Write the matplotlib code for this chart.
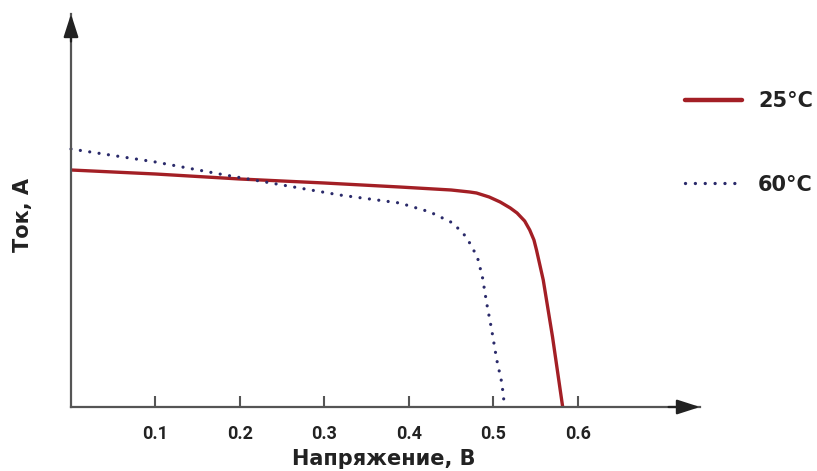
import matplotlib
matplotlib.use("Agg")
import matplotlib.pyplot as plt
from matplotlib.lines import Line2D

# --- data ---
v25 = [0.000, 0.100, 0.200, 0.300, 0.389, 0.450, 0.472, 0.480, 0.495, 0.508,
       0.520, 0.528, 0.537, 0.543, 0.548, 0.551, 0.559, 0.570, 0.582]
i25 = [2.37, 2.33, 2.28, 2.24, 2.20, 2.17, 2.15, 2.14, 2.10, 2.05,
       1.99, 1.94, 1.86, 1.77, 1.67, 1.57, 1.27, 0.70, 0.00]

v60 = [0.000, 0.100, 0.176, 0.250, 0.318, 0.389, 0.425, 0.452, 0.468, 0.481,
       0.487, 0.492, 0.498, 0.504, 0.510, 0.513]
i60 = [2.58, 2.45, 2.33, 2.22, 2.12, 2.04, 1.95, 1.84, 1.70, 1.50,
       1.30, 1.04, 0.77, 0.47, 0.24, 0.02]

xticks = [0.1, 0.2, 0.3, 0.4, 0.5, 0.6]
xticklabels = ["0.1", "0.2", "0.3", "0.4", "0.5", "0.6"]
labels = ["25°C", "60°C"]
xlabel = "Напряжение, В"
ylabel = "Ток, А"

RED = "#a31f25"
NAVY = "#2a2a6a"
AX = "#555555"
TXT = "#222222"

plt.rcParams["font.family"] = ["DejaVu Sans"]

fig = plt.figure(figsize=(8.17, 4.71), dpi=100)
ax = fig.add_axes([71 / 817, 1 - 407 / 471, (700 - 71) / 817, (407 - 14) / 471])
ax.set_xlim(0, (700 - 71.6) / 844)
ax.set_ylim(0, 3.93)

DOTS = (0, (0.01, 2.95))

ax.plot(v25, i25, color=RED, lw=2.4, solid_capstyle="butt", solid_joinstyle="round",
        label=labels[0], clip_on=False)
ax.plot(v60, i60, color=NAVY, lw=2.3, linestyle=DOTS, dash_capstyle="round",
        label=labels[1], clip_on=False)

for s in ["top", "right"]:
    ax.spines[s].set_visible(False)
for s in ["left", "bottom"]:
    ax.spines[s].set_color(AX)
    ax.spines[s].set_linewidth(1.6)

# arrow heads
ax.annotate("", xy=(1.0, 0), xytext=(0.95, 0), xycoords="axes fraction",
            arrowprops=dict(arrowstyle="-|>,head_length=1.4,head_width=0.45",
                            color="#222222", lw=1.6, shrinkA=0, shrinkB=0))
ax.annotate("", xy=(0, 1.0), xytext=(0, 0.93), xycoords="axes fraction",
            arrowprops=dict(arrowstyle="-|>,head_length=1.4,head_width=0.45",
                            color="#222222", lw=1.6, shrinkA=0, shrinkB=0))

ax.set_xticks(xticks)
ax.set_xticklabels(xticklabels, fontsize=13, fontweight="bold", color=TXT, family="Roboto")
ax.tick_params(axis="x", direction="in", length=8, width=1.5, color=AX, pad=13)
ax.set_yticks([])

fig.text(384 / 817, 1 - 459 / 471, xlabel, ha="center", va="center",
         fontsize=15, fontweight="bold", color=TXT)
fig.text(23 / 817, 1 - 215 / 471, ylabel, ha="center", va="center", rotation=90,
         fontsize=15, fontweight="bold", color=TXT)

handles = [Line2D([], [], color=RED, lw=3.2, solid_capstyle="round"),
           Line2D([], [], color=NAVY, lw=2.4, linestyle=DOTS, dash_capstyle="round")]
leg = fig.legend(handles, labels, loc="center left", bbox_to_anchor=(685 / 817, 1 - 143 / 471),
                 frameon=False, borderpad=0, borderaxespad=0, handlelength=2.75,
                 handletextpad=0.75, labelspacing=3.05,
                 prop=dict(family="DejaVu Sans", weight="bold", size=15))
for t in leg.get_texts():
    t.set_color(TXT)

fig.savefig("out.png", dpi=100)
